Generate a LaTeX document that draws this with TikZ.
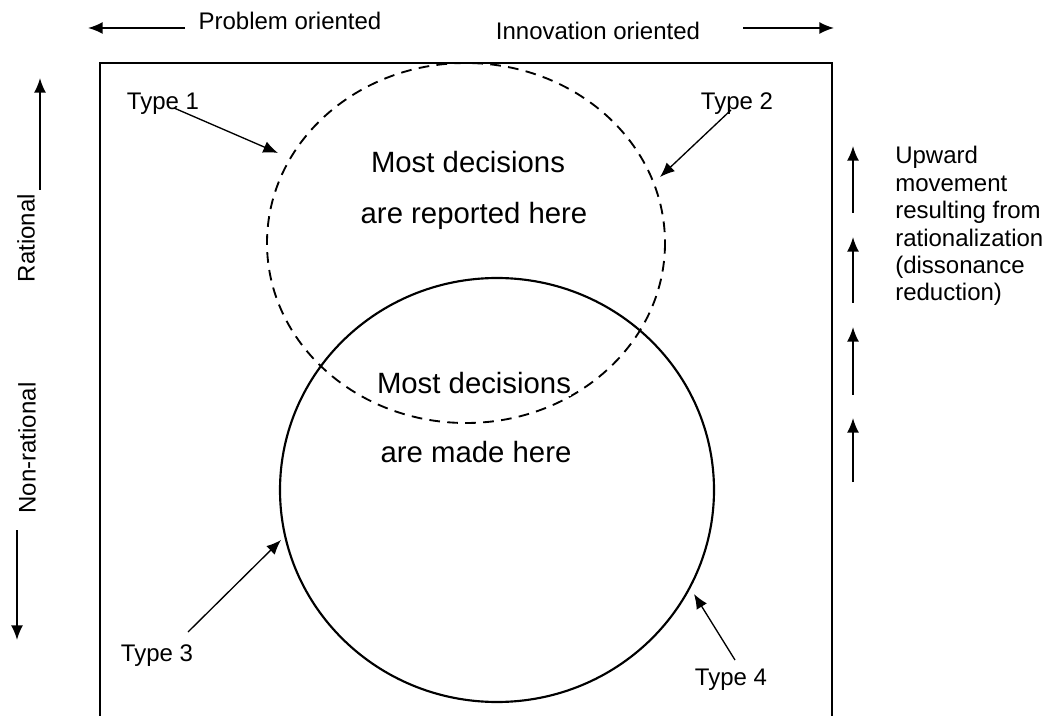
\documentclass[tikz,border=0pt]{standalone}
\usepackage{fontspec}
\setmainfont{Liberation Sans}
\usetikzlibrary{arrows.meta}
\tikzset{
  lbl/.style={inner sep=0pt, font=\fontsize{18}{20.6}\selectfont},
  bigtxt/.style={inner sep=0pt, font=\fontsize{22}{27}\selectfont},
  arr/.style={-{Latex[length=11pt,width=9pt]}, line width=1.3pt},
}
\begin{document}
\begin{tikzpicture}[x=0.75pt,y=-0.75pt]
\useasboundingbox (0,0) rectangle (1053,716);
% frame (open at the bottom)
\draw[line width=1.5pt] (100,716) -- (100,63) -- (832,63) -- (832,716);
% the two circles
\draw[line width=1.4pt, dash pattern=on 8pt off 5.5pt] (466,243) ellipse (199 and 180);
\draw[line width=1.6pt] (497,490) ellipse (217 and 212);

% top axis
\node[lbl] (prob) at (290,21) {Problem oriented};
\node[lbl] (innov) at (598,31) {Innovation oriented};
\coordinate (probA) at (185,28);
\coordinate (probB) at (88,28);
\coordinate (innovA) at (743,28);
\coordinate (innovB) at (834,28);
\draw[arr] (probA) -- (probB);
\draw[arr] (innovA) -- (innovB);

% left axis
\node[lbl, rotate=90] (rat) at (26,238) {Rational};
\node[lbl, rotate=90] (nonrat) at (27,448) {Non-rational};
\coordinate (ratA) at (40,190);
\coordinate (ratB) at (40,78);
\coordinate (nonratA) at (17,530);
\coordinate (nonratB) at (17,640);
\draw[arr] (ratA) -- (ratB);
\draw[arr] (nonratA) -- (nonratB);

% texts in the circles
\node[bigtxt] (rep1) at (468,162) {Most decisions};
\node[bigtxt] (rep2) at (474,216) {are reported here};
\node[bigtxt, fill=white, inner ysep=2pt] (made1) at (474,383) {Most decisions};
\node[bigtxt] (made2) at (476,452) {are made here};

% types
\node[lbl] (type1) at (163,104) {Type 1};
\node[lbl] (type2) at (737,104) {Type 2};
\node[lbl] (type3) at (157,656) {Type 3};
\node[lbl] (type4) at (731,680) {Type 4};
\coordinate (t1a) at (174,108);
\coordinate (t1b) at (278,153);
\coordinate (t2a) at (731,110);
\coordinate (t2b) at (660,177);
\coordinate (t3a) at (188,632);
\coordinate (t3b) at (281,540);
\coordinate (t4a) at (735,660);
\coordinate (t4b) at (694,594);
\draw[arr, line width=1pt] (t1a) -- (t1b);
\draw[arr, line width=1pt] (t2a) -- (t2b);
\draw[arr, line width=1pt] (t3a) -- (t3b);
\draw[arr, line width=1pt] (t4a) -- (t4b);

% upward movement
\foreach \i/\ya/\yb in {1/213/146, 2/303/237, 3/395/327, 4/482/418} {
  \coordinate (up\i a) at (853,\ya);
  \coordinate (up\i b) at (853,\yb);
  \draw[arr] (up\i a) -- (up\i b);
}
\node[lbl, align=left, anchor=north west] (upward) at (895,146)
  {Upward\\movement\\resulting from\\rationalization\\(dissonance\\reduction)};
\end{tikzpicture}
\end{document}
